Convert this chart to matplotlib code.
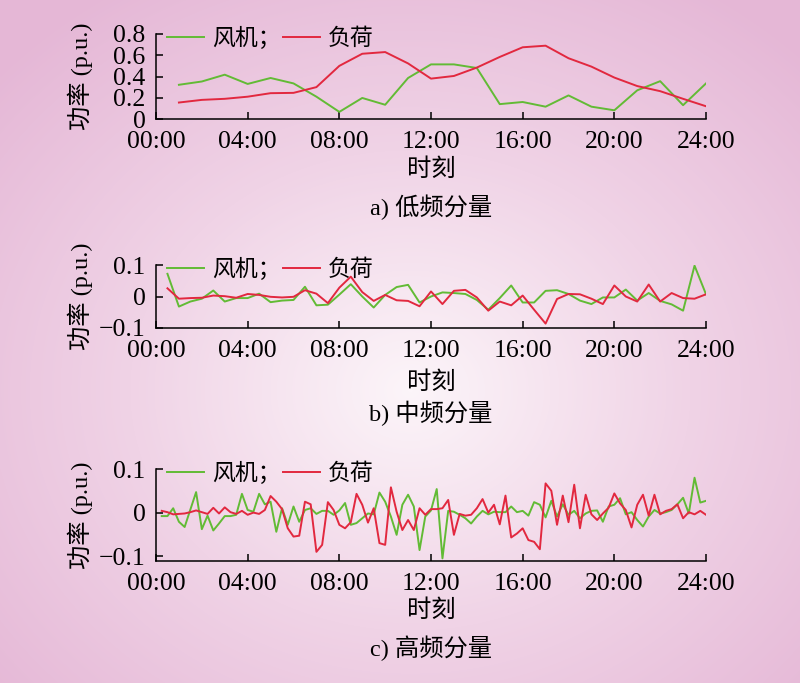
import numpy as np
import matplotlib
matplotlib.use('Agg')
import matplotlib.pyplot as plt
from matplotlib.colors import LinearSegmentedColormap

plt.rcParams['font.family'] = ['Liberation Serif', 'Noto Sans CJK SC']
plt.rcParams['axes.unicode_minus'] = True

# --- data ---
hour_labels = ['00:00', '04:00', '08:00', '12:00', '16:00', '20:00', '24:00']
hour_ticks = [0, 4, 8, 12, 16, 20, 24]

wind_low = [0.322, 0.353, 0.417, 0.33, 0.386, 0.335, 0.21, 0.067, 0.198, 0.134,
            0.386, 0.514, 0.514, 0.48, 0.14, 0.16, 0.116, 0.222, 0.116, 0.082,
            0.27, 0.356, 0.13, 0.335]
load_low = [0.155, 0.18, 0.19, 0.21, 0.243, 0.246, 0.30, 0.50, 0.614, 0.63,
            0.523, 0.38, 0.405, 0.484, 0.584, 0.675, 0.69, 0.572, 0.493, 0.39,
            0.31, 0.262, 0.19, 0.12]

wind_mid = [0.072, -0.032, -0.016, -0.007, 0.019, -0.016, -0.005, -0.005, 0.009, -0.018,
            -0.013, -0.011, 0.031, -0.028, -0.026, 0.006, 0.039, 0.0, -0.035, 0.005,
            0.03, 0.037, -0.019, 0.0, 0.013, 0.011, 0.008, -0.011, -0.042, -0.005,
            0.035, -0.019, -0.019, 0.018, 0.02, 0.008, -0.013, -0.024, -0.003, -0.003,
            0.022, -0.013, 0.011, -0.014, -0.025, -0.045, 0.098, 0.007]
load_mid = [0.026, -0.007, -0.005, -0.004, 0.003, 0.001, -0.004, 0.008, 0.005, -0.001,
            -0.003, -0.001, 0.02, 0.009, -0.021, 0.028, 0.063, 0.014, -0.014, 0.005,
            -0.012, -0.014, -0.031, 0.016, -0.024, 0.018, 0.021, -0.003, -0.045, -0.016,
            -0.028, 0.003, -0.042, -0.086, -0.008, 0.008, 0.007, -0.007, -0.024, 0.035,
            0.0, -0.016, 0.038, -0.016, 0.011, -0.005, -0.007, 0.007]

wind_high = [-0.008, -0.008, 0.010, -0.021, -0.033, 0.007, 0.047, -0.038,
             -0.007, -0.041, -0.025, -0.008, -0.008, -0.005, 0.043, 0.006,
             0.002, 0.043, 0.019, 0.025, -0.044, 0.010, -0.028, 0.014,
             -0.021, 0.006, 0.010, -0.003, 0.004, 0.004, -0.005, 0.005,
             0.022, -0.028, -0.024, -0.013, -0.002, -0.004, 0.046, 0.025,
             -0.009, -0.051, 0.018, 0.041, 0.014, -0.086, -0.009, 0.005,
             0.054, -0.105, 0.004, 0.002, -0.005, -0.013, -0.025, -0.009,
             0.004, -0.004, 0.002, 0.001, 0.001, 0.014, 0.001, 0.004,
             -0.007, 0.024, 0.018, -0.011, 0.027, -0.009, 0.019, -0.005,
             0.004, -0.013, -0.002, 0.004, 0.005, -0.021, 0.014, 0.018,
             0.033, -0.004, 0.001, -0.017, -0.032, -0.009, 0.006, -0.002,
             0.001, 0.006, 0.019, 0.034, -0.002, 0.080, 0.023, 0.027]
load_high = [0.004, 0.001, -0.004, -0.003, -0.002, 0.001, 0.005, 0.001,
             -0.003, 0.011, -0.002, 0.012, 0.001, -0.003, 0.004, -0.005,
             0.0, -0.003, 0.006, 0.038, 0.025, 0.008, -0.036, -0.055,
             -0.053, 0.025, 0.019, -0.090, -0.074, 0.024, 0.006, -0.028,
             -0.036, -0.022, 0.043, 0.018, -0.023, 0.010, -0.070, -0.074,
             0.058, 0.002, -0.040, -0.017, -0.040, 0.010, -0.005, 0.008,
             0.008, 0.010, 0.029, -0.051, -0.003, -0.007, -0.005, 0.010,
             0.031, 0.0, 0.018, -0.027, 0.039, -0.057, -0.048, -0.036,
             -0.063, -0.067, -0.084, 0.067, 0.050, -0.028, 0.039, -0.022,
             0.064, -0.036, 0.041, -0.004, -0.017, -0.002, 0.011, 0.044,
             0.021, 0.006, -0.034, 0.018, 0.041, -0.007, 0.041, -0.004,
             0.004, 0.008, 0.019, -0.013, 0.001, -0.004, 0.004, -0.005]

captions = ['a) 低频分量', 'b) 中频分量', 'c) 高频分量']
yticks_list = [[0, 0.2, 0.4, 0.6, 0.8], [-0.1, 0, 0.1], [-0.1, 0, 0.1]]
ytick_labels = [['0', '0.2', '0.4', '0.6', '0.8'], ['\u22120.1', '0', '0.1'], ['\u22120.1', '0', '0.1']]
ylims = [(0, 0.8), (-0.1, 0.1), (-0.111, 0.1)]

GREEN = '#62bb35'
RED = '#e2283f'

fig = plt.figure(figsize=(8, 6.83), dpi=100)

# radial pink background
bg = fig.add_axes([0, 0, 1, 1], zorder=-10)
yy, xx = np.mgrid[0:683, 0:800]
r = np.sqrt(((xx - 410) / 560.0) ** 2 + ((yy - 390) / 480.0) ** 2)
r = np.clip(r, 0, 1)
cmap = LinearSegmentedColormap.from_list('bgpink', ['#fcf5f9', '#f0d3e6', '#e5b7d6'])
bg.imshow(r, cmap=cmap, aspect='auto', extent=[0, 1, 0, 1], origin='upper')
bg.axis('off')

# axes boxes in figure pixels: (left, top, right, bottom)
boxes = [(156, 34, 706, 119), (156, 265, 706, 328), (156, 469, 706, 561)]
caption_y = [207, 413, 648]
xlabel_y = [170, 383, 611]

series = [(wind_low, load_low), (wind_mid, load_mid), (wind_high, load_high)]

for i, (w, l) in enumerate(series):
    left, top, right, bottom = boxes[i]
    ax = fig.add_axes([left / 800, 1 - bottom / 683, (right - left) / 800, (bottom - top) / 683])
    ax.set_facecolor('none')
    t = np.arange(1, len(w) + 1) * 24.0 / len(w)
    ax.plot(t, w, color=GREEN, lw=1.4, label='风机；')
    ax.plot(t, l, color=RED, lw=1.4, label='负荷')
    ax.set_xlim(0, 24)
    ax.set_ylim(*ylims[i])
    ax.set_xticks(hour_ticks)
    ax.set_xticklabels(hour_labels)
    ax.set_yticks(yticks_list[i])
    ax.set_yticklabels(ytick_labels[i])
    ax.tick_params(direction='in', length=5, width=1.1, labelsize=18.5)
    ax.tick_params(axis='y', pad=7.5)
    ax.tick_params(axis='x', pad=8.5)
    for s in ['top', 'right']:
        ax.spines[s].set_visible(False)
    for s in ['left', 'bottom']:
        ax.spines[s].set_linewidth(1.1)
    ax.set_ylabel('功率 (p.u.)', fontsize=17.5)
    ax.yaxis.set_label_coords(-63 / 550, 0.5)
    ax.legend(loc='center left', bbox_to_anchor=(0.0, 1.0 - 4 / (bottom - top)), ncol=2,
              frameon=False, fontsize=16.5, handlelength=1.6, handletextpad=0.35,
              columnspacing=0.1, borderaxespad=0.3, borderpad=0.2)
    fig.text((left + right) / 2 / 800, 1 - xlabel_y[i] / 683, '时刻', ha='center', va='center',
             fontsize=17.5)
    fig.text((left + right) / 2 / 800, 1 - caption_y[i] / 683, captions[i], ha='center',
             va='center', fontsize=17.5)

fig.savefig('out.png', dpi=100)
